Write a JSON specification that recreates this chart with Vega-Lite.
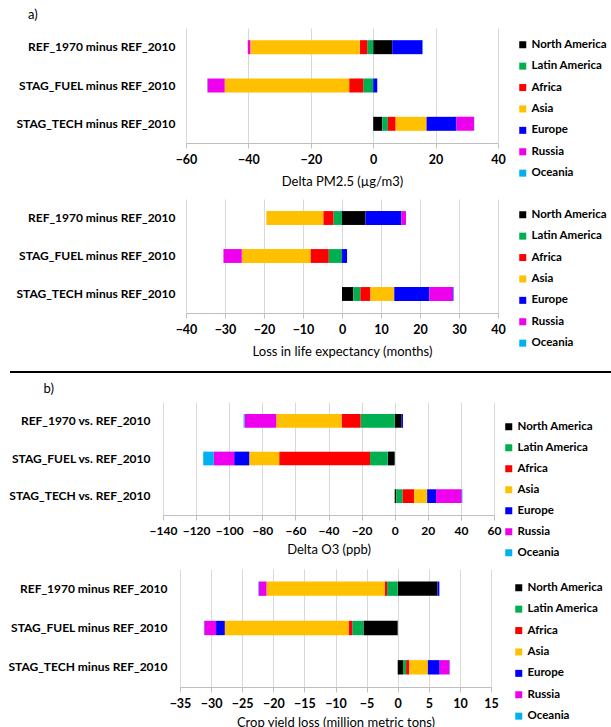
{
  "$schema": "https://vega.github.io/schema/vega-lite/v6.json",
  "padding": {"left": 0, "top": 9, "right": 0, "bottom": 0},
  "background": "white",
  "config": {
    "view": {"stroke": null},
    "font": "Lato",
    "axisX": {"grid": true, "gridColor": "#d9d9d9", "domainColor": "#bfbfbf", "tickColor": "#bfbfbf", "tickSize": 5, "labelFontSize": 12.5, "labelFontWeight": "bold", "labelColor": "black", "labelPadding": 5, "labelOverlap": false, "labelFlush": false, "titleFontSize": 13, "titleFontWeight": "normal", "titleColor": "black", "titlePadding": 10, "labelFont": "Lato", "titleFont": "Lato"},
    "axisY": {"grid": false, "domain": false, "ticks": false, "labelFontSize": 12, "labelFontWeight": "bold", "labelColor": "black", "labelPadding": 11, "labelFont": "Lato"},
    "legend": {"orient": "right", "symbolType": "square", "symbolSize": 49, "symbolStrokeWidth": 0, "labelOffset": 3, "labelFontSize": 11.5, "labelFontWeight": "bold", "labelFont": "Lato", "labelColor": "black", "rowPadding": 8.4, "padding": 0, "titleFontSize": 1, "titleColor": "white"},
    "title": {"font": "Lato", "fontSize": 13, "fontWeight": "normal", "color": "black", "anchor": "start", "frame": "bounds"}
  },
  "datasets": {
    "regions": [
      {"r": "North America", "k": 1},
      {"r": "Latin America", "k": 2},
      {"r": "Africa", "k": 3},
      {"r": "Asia", "k": 4},
      {"r": "Europe", "k": 5},
      {"r": "Russia", "k": 6},
      {"r": "Oceania", "k": 7}
    ]
  },
  "data": {"values": [
    {"p":1,"s":"REF_1970 minus REF_2010","r":"North America","v":6.1},
    {"p":1,"s":"REF_1970 minus REF_2010","r":"Latin America","v":-1.9},
    {"p":1,"s":"REF_1970 minus REF_2010","r":"Africa","v":-2.4},
    {"p":1,"s":"REF_1970 minus REF_2010","r":"Asia","v":-35.1},
    {"p":1,"s":"REF_1970 minus REF_2010","r":"Europe","v":9.7},
    {"p":1,"s":"REF_1970 minus REF_2010","r":"Russia","v":-0.8},
    {"p":1,"s":"REF_1970 minus REF_2010","r":"Oceania","v":0.1},
    {"p":1,"s":"STAG_FUEL minus REF_2010","r":"North America","v":0},
    {"p":1,"s":"STAG_FUEL minus REF_2010","r":"Latin America","v":-3.2},
    {"p":1,"s":"STAG_FUEL minus REF_2010","r":"Africa","v":-4.5},
    {"p":1,"s":"STAG_FUEL minus REF_2010","r":"Asia","v":-39.9},
    {"p":1,"s":"STAG_FUEL minus REF_2010","r":"Europe","v":1.3},
    {"p":1,"s":"STAG_FUEL minus REF_2010","r":"Russia","v":-5.5},
    {"p":1,"s":"STAG_FUEL minus REF_2010","r":"Oceania","v":-0.1},
    {"p":1,"s":"STAG_TECH minus REF_2010","r":"North America","v":2.9},
    {"p":1,"s":"STAG_TECH minus REF_2010","r":"Latin America","v":1.8},
    {"p":1,"s":"STAG_TECH minus REF_2010","r":"Africa","v":2.5},
    {"p":1,"s":"STAG_TECH minus REF_2010","r":"Asia","v":9.9},
    {"p":1,"s":"STAG_TECH minus REF_2010","r":"Europe","v":9.6},
    {"p":1,"s":"STAG_TECH minus REF_2010","r":"Russia","v":5.6},
    {"p":1,"s":"STAG_TECH minus REF_2010","r":"Oceania","v":0.1},
    {"p":2,"s":"REF_1970 minus REF_2010","r":"North America","v":6.0},
    {"p":2,"s":"REF_1970 minus REF_2010","r":"Latin America","v":-2.2},
    {"p":2,"s":"REF_1970 minus REF_2010","r":"Africa","v":-2.6},
    {"p":2,"s":"REF_1970 minus REF_2010","r":"Asia","v":-14.6},
    {"p":2,"s":"REF_1970 minus REF_2010","r":"Europe","v":9.2},
    {"p":2,"s":"REF_1970 minus REF_2010","r":"Russia","v":1.2},
    {"p":2,"s":"REF_1970 minus REF_2010","r":"Oceania","v":0},
    {"p":2,"s":"STAG_FUEL minus REF_2010","r":"North America","v":0},
    {"p":2,"s":"STAG_FUEL minus REF_2010","r":"Latin America","v":-3.4},
    {"p":2,"s":"STAG_FUEL minus REF_2010","r":"Africa","v":-4.7},
    {"p":2,"s":"STAG_FUEL minus REF_2010","r":"Asia","v":-17.6},
    {"p":2,"s":"STAG_FUEL minus REF_2010","r":"Europe","v":1.3},
    {"p":2,"s":"STAG_FUEL minus REF_2010","r":"Russia","v":-4.7},
    {"p":2,"s":"STAG_FUEL minus REF_2010","r":"Oceania","v":0},
    {"p":2,"s":"STAG_TECH minus REF_2010","r":"North America","v":2.9},
    {"p":2,"s":"STAG_TECH minus REF_2010","r":"Latin America","v":1.8},
    {"p":2,"s":"STAG_TECH minus REF_2010","r":"Africa","v":2.6},
    {"p":2,"s":"STAG_TECH minus REF_2010","r":"Asia","v":6.1},
    {"p":2,"s":"STAG_TECH minus REF_2010","r":"Europe","v":9.0},
    {"p":2,"s":"STAG_TECH minus REF_2010","r":"Russia","v":6.1},
    {"p":2,"s":"STAG_TECH minus REF_2010","r":"Oceania","v":0.2},
    {"p":3,"s":"REF_1970 vs. REF_2010","r":"North America","v":4.2},
    {"p":3,"s":"REF_1970 vs. REF_2010","r":"Latin America","v":-20.6},
    {"p":3,"s":"REF_1970 vs. REF_2010","r":"Africa","v":-11.5},
    {"p":3,"s":"REF_1970 vs. REF_2010","r":"Asia","v":-39.5},
    {"p":3,"s":"REF_1970 vs. REF_2010","r":"Europe","v":0.8},
    {"p":3,"s":"REF_1970 vs. REF_2010","r":"Russia","v":-19.1},
    {"p":3,"s":"REF_1970 vs. REF_2010","r":"Oceania","v":-0.6},
    {"p":3,"s":"STAG_FUEL vs. REF_2010","r":"North America","v":-4.2},
    {"p":3,"s":"STAG_FUEL vs. REF_2010","r":"Latin America","v":-10.7},
    {"p":3,"s":"STAG_FUEL vs. REF_2010","r":"Africa","v":-54.9},
    {"p":3,"s":"STAG_FUEL vs. REF_2010","r":"Asia","v":-18.1},
    {"p":3,"s":"STAG_FUEL vs. REF_2010","r":"Europe","v":-9.1},
    {"p":3,"s":"STAG_FUEL vs. REF_2010","r":"Russia","v":-12.3},
    {"p":3,"s":"STAG_FUEL vs. REF_2010","r":"Oceania","v":-6.4},
    {"p":3,"s":"STAG_TECH vs. REF_2010","r":"North America","v":1.0},
    {"p":3,"s":"STAG_TECH vs. REF_2010","r":"Latin America","v":3.8},
    {"p":3,"s":"STAG_TECH vs. REF_2010","r":"Africa","v":6.9},
    {"p":3,"s":"STAG_TECH vs. REF_2010","r":"Asia","v":7.9},
    {"p":3,"s":"STAG_TECH vs. REF_2010","r":"Europe","v":5.4},
    {"p":3,"s":"STAG_TECH vs. REF_2010","r":"Russia","v":15.5},
    {"p":3,"s":"STAG_TECH vs. REF_2010","r":"Oceania","v":0.4},
    {"p":4,"s":"REF_1970 minus REF_2010","r":"North America","v":6.4},
    {"p":4,"s":"REF_1970 minus REF_2010","r":"Latin America","v":-1.7},
    {"p":4,"s":"REF_1970 minus REF_2010","r":"Africa","v":-0.4},
    {"p":4,"s":"REF_1970 minus REF_2010","r":"Asia","v":-19.0},
    {"p":4,"s":"REF_1970 minus REF_2010","r":"Europe","v":0.3},
    {"p":4,"s":"REF_1970 minus REF_2010","r":"Russia","v":-1.2},
    {"p":4,"s":"REF_1970 minus REF_2010","r":"Oceania","v":-0.1},
    {"p":4,"s":"STAG_FUEL minus REF_2010","r":"North America","v":-5.5},
    {"p":4,"s":"STAG_FUEL minus REF_2010","r":"Latin America","v":-1.8},
    {"p":4,"s":"STAG_FUEL minus REF_2010","r":"Africa","v":-0.6},
    {"p":4,"s":"STAG_FUEL minus REF_2010","r":"Asia","v":-19.9},
    {"p":4,"s":"STAG_FUEL minus REF_2010","r":"Europe","v":-1.4},
    {"p":4,"s":"STAG_FUEL minus REF_2010","r":"Russia","v":-1.9},
    {"p":4,"s":"STAG_FUEL minus REF_2010","r":"Oceania","v":-0.05},
    {"p":4,"s":"STAG_TECH minus REF_2010","r":"North America","v":0.85},
    {"p":4,"s":"STAG_TECH minus REF_2010","r":"Latin America","v":0.5},
    {"p":4,"s":"STAG_TECH minus REF_2010","r":"Africa","v":0.5},
    {"p":4,"s":"STAG_TECH minus REF_2010","r":"Asia","v":3.0},
    {"p":4,"s":"STAG_TECH minus REF_2010","r":"Europe","v":1.9},
    {"p":4,"s":"STAG_TECH minus REF_2010","r":"Russia","v":1.6},
    {"p":4,"s":"STAG_TECH minus REF_2010","r":"Oceania","v":0.05}
  ]},
  "spacing": 10,
  "resolve": {"scale": {"x": "independent", "y": "independent", "color": "independent"}, "legend": {"color": "independent"}},
  "vconcat": [
    {
      "width": 312, "height": 115,
      "title": {"text": "a)", "dx": 28, "offset": 6},
      "transform": [{"filter": "datum.p == 1"}, {"lookup": "r", "from": {"data": {"name": "regions"}, "key": "r", "fields": ["k"]}}],
      "mark": {"type": "bar"},
      "encoding": {
        "y": {"field": "s", "type": "nominal", "sort": ["REF_1970 minus REF_2010", "STAG_FUEL minus REF_2010", "STAG_TECH minus REF_2010"], "scale": {"paddingInner": 0.635, "paddingOuter": 0.318}, "axis": {"title": null, "minExtent": 186, "maxExtent": 186}},
        "x": {"field": "v", "type": "quantitative", "scale": {"domain": [-60, 40], "nice": false}, "axis": {"values": [-60, -40, -20, 0, 20, 40], "title": "Delta PM2.5 (µg/m3)"}},
        "order": {"field": "k", "type": "quantitative", "sort": "ascending"},
        "color": {"field": "r", "type": "nominal", "sort": ["North America", "Latin America", "Africa", "Asia", "Europe", "Russia", "Oceania"], "scale": {"domain": ["North America", "Latin America", "Africa", "Asia", "Europe", "Russia", "Oceania"], "range": ["#000000", "#00b050", "#ff0000", "#ffc000", "#0000ff", "#ee00ee", "#00b0f0"]}, "legend": {"title": " ", "titlePadding": 10, "offset": 19}}
      }
    },
    {
      "width": 312, "height": 114,
      "transform": [{"filter": "datum.p == 2"}, {"lookup": "r", "from": {"data": {"name": "regions"}, "key": "r", "fields": ["k"]}}],
      "mark": {"type": "bar"},
      "encoding": {
        "y": {"field": "s", "type": "nominal", "sort": ["REF_1970 minus REF_2010", "STAG_FUEL minus REF_2010", "STAG_TECH minus REF_2010"], "scale": {"paddingInner": 0.635, "paddingOuter": 0.318}, "axis": {"title": null, "minExtent": 186, "maxExtent": 186}},
        "x": {"field": "v", "type": "quantitative", "scale": {"domain": [-40, 40], "nice": false}, "axis": {"values": [-40, -30, -20, -10, 0, 10, 20, 30, 40], "title": "Loss in life expectancy (months)"}},
        "order": {"field": "k", "type": "quantitative", "sort": "ascending"},
        "color": {"field": "r", "type": "nominal", "sort": ["North America", "Latin America", "Africa", "Asia", "Europe", "Russia", "Oceania"], "scale": {"domain": ["North America", "Latin America", "Africa", "Asia", "Europe", "Russia", "Oceania"], "range": ["#000000", "#00b050", "#ff0000", "#ffc000", "#0000ff", "#ee00ee", "#00b0f0"]}, "legend": {"title": " ", "titlePadding": 9, "offset": 19}}
      }
    },
    {
      "width": 425, "height": 3,
      "data": {"values": [{"a": 0, "b": 1, "y": 0}]},
      "mark": {"type": "rule", "color": "black", "strokeWidth": 2},
      "encoding": {
        "x": {"field": "a", "type": "quantitative", "scale": {"domain": [0, 1], "range": [-176, 425], "nice": false, "zero": false}, "axis": null},
        "x2": {"field": "b"},
        "y": {"field": "y", "type": "quantitative", "scale": {"domain": [0, 1]}, "axis": null}
      }
    },
    {
      "width": 308, "height": 113,
      "title": {"text": "b)", "dx": 35, "offset": 6},
      "transform": [{"filter": "datum.p == 3"}, {"lookup": "r", "from": {"data": {"name": "regions"}, "key": "r", "fields": ["k"]}}],
      "mark": {"type": "bar"},
      "encoding": {
        "y": {"field": "s", "type": "nominal", "sort": ["REF_1970 vs. REF_2010", "STAG_FUEL vs. REF_2010", "STAG_TECH vs. REF_2010"], "scale": {"paddingInner": 0.635, "paddingOuter": 0.318}, "axis": {"title": null, "labelPadding": 36}},
        "x": {"field": "v", "type": "quantitative", "scale": {"domain": [-140, 60], "range": [-23, 308], "nice": false}, "axis": {"values": [-140, -120, -100, -80, -60, -40, -20, 0, 20, 40, 60], "title": "Delta O3 (ppb)", "titlePadding": 7, "labelFontSize": 12}},
        "order": {"field": "k", "type": "quantitative", "sort": "ascending"},
        "color": {"field": "r", "type": "nominal", "sort": ["North America", "Latin America", "Africa", "Asia", "Europe", "Russia", "Oceania"], "scale": {"domain": ["North America", "Latin America", "Africa", "Asia", "Europe", "Russia", "Oceania"], "range": ["#000000", "#00b050", "#ff0000", "#ffc000", "#0000ff", "#ee00ee", "#00b0f0"]}, "legend": {"title": " ", "titlePadding": 18, "rowPadding": 8, "offset": 9}}
      }
    },
    {
      "width": 305, "height": 118,
      "transform": [{"filter": "datum.p == 4"}, {"lookup": "r", "from": {"data": {"name": "regions"}, "key": "r", "fields": ["k"]}}],
      "mark": {"type": "bar"},
      "encoding": {
        "y": {"field": "s", "type": "nominal", "sort": ["REF_1970 minus REF_2010", "STAG_FUEL minus REF_2010", "STAG_TECH minus REF_2010"], "scale": {"paddingInner": 0.635, "paddingOuter": 0.318}, "axis": {"title": null, "labelPadding": 19}},
        "x": {"field": "v", "type": "quantitative", "scale": {"domain": [-35, 15], "range": [-6, 305], "nice": false}, "axis": {"values": [-35, -30, -25, -20, -15, -10, -5, 0, 5, 10, 15], "title": "Crop yield loss (million metric tons)", "titlePadding": 7}},
        "order": {"field": "k", "type": "quantitative", "sort": "ascending"},
        "color": {"field": "r", "type": "nominal", "sort": ["North America", "Latin America", "Africa", "Asia", "Europe", "Russia", "Oceania"], "scale": {"domain": ["North America", "Latin America", "Africa", "Asia", "Europe", "Russia", "Oceania"], "range": ["#000000", "#00b050", "#ff0000", "#ffc000", "#0000ff", "#ee00ee", "#00b0f0"]}, "legend": {"title": " ", "titlePadding": 12, "offset": 22}}
      }
    }
  ]
}
